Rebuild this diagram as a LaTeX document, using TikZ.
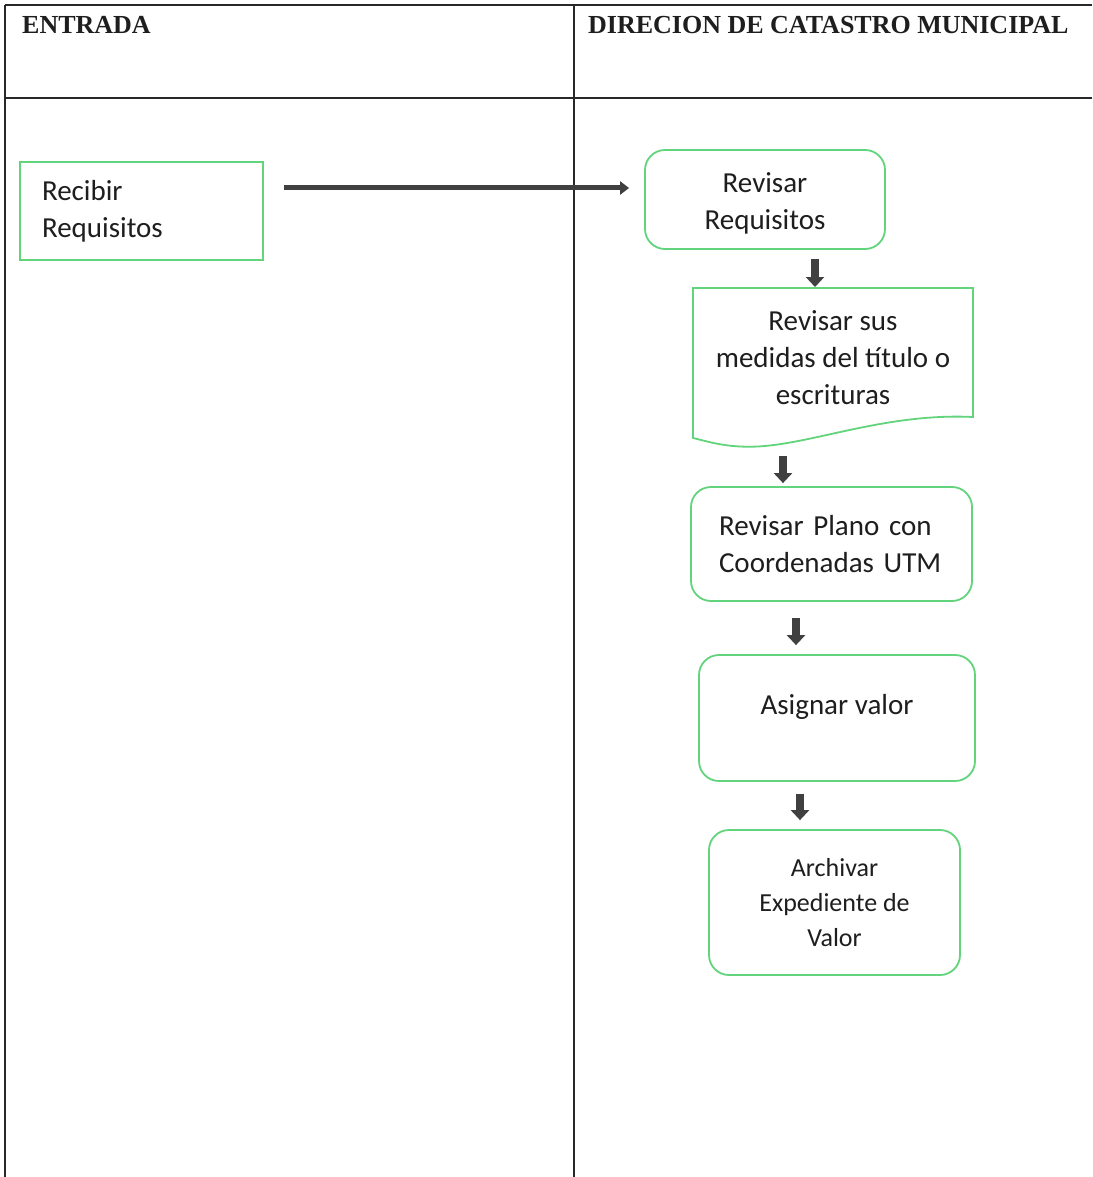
\documentclass[tikz,border=0pt]{standalone}
\usepackage{fontspec}
\setmainfont{Carlito}
\newfontfamily\hdrfont{Liberation Serif}
\usetikzlibrary{arrows.meta,calc}
\definecolor{boxgreen}{RGB}{98,212,124}
\definecolor{arrgray}{RGB}{64,64,64}
\definecolor{txtgray}{RGB}{30,30,30}
\definecolor{linegray}{RGB}{40,40,40}
\tikzset{
  gridline/.style={draw=linegray,line width=1.4pt},
  hdr/.style={anchor=base west,inner sep=0pt,font=\hdrfont\bfseries\fontsize{26}{30}\selectfont,text=txtgray},
  gbox/.style={draw=boxgreen,line width=1.8pt,text=txtgray,font=\fontsize{29}{37}\selectfont,align=center},
  rbox/.style={gbox,rounded corners=20pt},
  harrow/.style={draw=arrgray,line width=5pt,-{Triangle[length=9pt,width=13pt]}},
  darrow/.style={draw=arrgray,line width=7.5pt,-{Triangle[length=10pt,width=18pt]}}
}
\begin{document}
\begin{tikzpicture}[x=1pt,y=-1pt]
\useasboundingbox[fill=white] (0,0) rectangle (1092,1177);
% table
\draw[gridline] (5,5) -- (1092,5);
\draw[gridline,line width=2.2pt] (5,98) -- (1092,98);
\draw[gridline] (5,5) -- (5,1177);
\draw[gridline] (574,5) -- (574,1177);
\node[hdr] (h1) at (22,34) {ENTRADA};
\node[hdr] (h2) at (588,34) {DIRECION DE CATASTRO MUNICIPAL};
% nodes
\node[gbox,align=left,text width=199pt,inner xsep=22pt,minimum height=98pt,inner ysep=0pt] (n1) at (141.5,211) {Recibir\\Requisitos};
\node[rbox,minimum width=240pt,minimum height=99pt,inner sep=0pt] (n2) at (765,199.5) {};
\node[gbox,draw=none,inner sep=0pt] (n2t) at (765,203.5) {Revisar\\Requisitos};
% document shape
\draw[boxgreen,line width=1.8pt,fill=white] (693,288) -- (973,288) -- (973,417)
  .. controls (890,413) and (820,441) .. (765,446)
  .. controls (730,449) and (710,442) .. (693,438) -- cycle;
\node[gbox,draw=none,inner sep=0pt] (n3) at (833,358) {Revisar sus\\medidas del título o\\escrituras};
\coordinate (n3top) at (832,288);
\coordinate (n3bot) at (783,447);
\node[rbox,align=left,text width=225pt,inner xsep=28pt,minimum height=114pt,inner ysep=0pt] (n4) at (831.5,544) {Revisar Plano con\\Coordenadas UTM};
\node[rbox,minimum width=276pt,minimum height=126pt,inner sep=0pt,text depth=28pt] (n5) at (837,718) {Asignar valor};
\node[rbox,minimum width=251pt,minimum height=145pt,inner sep=0pt,font=\fontsize{26}{35}\selectfont] (n6) at (834.5,902.5) {Archivar\\Expediente de\\Valor};
% connectors
\coordinate (s1) at ([xshift=20pt,yshift=23pt]n1.east);
\draw[harrow] (s1) -- ([xshift=-15pt]s1 -| n2.west);
\coordinate (s2) at ([xshift=50pt,yshift=-9pt]n2.south);
\draw[darrow] (s2) -- ([yshift=1pt]s2 |- n3top);
\coordinate (s3) at ([yshift=-9pt]n3bot);
\draw[darrow] (s3) -- ([yshift=3pt]s3 |- n4.north);
\coordinate (s4) at ([xshift=-35.5pt,yshift=-16pt]n4.south);
\draw[darrow] (s4) -- ([yshift=9pt]s4 |- n5.north);
\coordinate (s5) at ([xshift=-37pt,yshift=-12pt]n5.south);
\draw[darrow] (s5) -- ([yshift=9pt]s5 |- n6.north);
\end{tikzpicture}
\end{document}
